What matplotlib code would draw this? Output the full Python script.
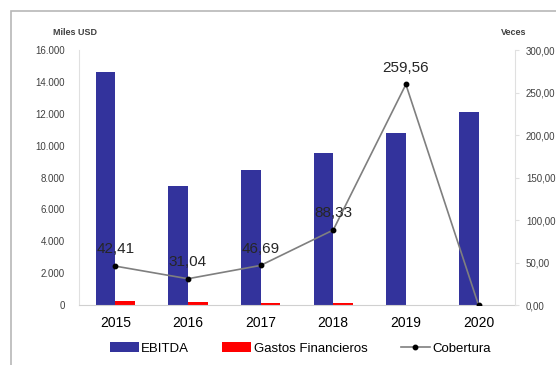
import matplotlib
matplotlib.use("Agg")
import matplotlib.pyplot as plt
import numpy as np
from matplotlib.patches import Rectangle
from matplotlib.ticker import FuncFormatter

years = ["2015", "2016", "2017", "2018", "2019", "2020"]
ebitda = [14650, 7470, 8470, 9520, 10800, 12130]
gastos = [280, 220, 160, 110, 40, 0]
cobertura = [45.9, 31.04, 46.69, 88.33, 259.56, 0.0]
cob_labels = ["42,41", "31,04", "46,69", "88,33", "259,56", ""]

plt.rcParams['font.family'] = ['Liberation Sans', 'DejaVu Sans']

fig = plt.figure(figsize=(5.56, 3.65), dpi=100)
# chart frame (gray border, runs off the right/bottom of the image)
fig.patches.append(Rectangle((11 / 556, -0.1), 1.2, (365 - 11) / 365 + 0.1,
                             transform=fig.transFigure, fill=False,
                             edgecolor='#b8b8b8', linewidth=1.2))

ax = fig.add_axes([0.142, 0.164, 0.784, 0.699])
x = np.arange(len(years))
w = 0.27
b1 = ax.bar(x - w / 2, ebitda, w, color='#33339c', label='EBITDA')
b2 = ax.bar(x + w / 2, gastos, w, color='#ff0000', label='Gastos Financieros')
ax.set_xlim(-0.5, 5.5)
ax.set_ylim(0, 16000)
ax.set_yticks(np.arange(0, 16001, 2000))
ax.yaxis.set_major_formatter(FuncFormatter(lambda v, p: f"{int(v):,}".replace(",", ".")))
ax.set_xticks(x)
ax.set_xticklabels(years, fontsize=10)
ax.tick_params(axis='y', labelsize=7, colors='#404040', length=0, pad=10)
ax.tick_params(axis='x', length=0, pad=8)
for s in ['top', 'right']:
    ax.spines[s].set_visible(False)
ax.spines['left'].set_color('#e0e0e0')
ax.spines['bottom'].set_color('#d0d0d0')

ax2 = ax.twinx()
ln, = ax2.plot(x, cobertura, color='#7f7f7f', linewidth=1.2, marker='o',
               markersize=3.2, markerfacecolor='black', markeredgecolor='black',
               label='Cobertura')
ax2.set_ylim(0, 300)
ax2.set_yticks(np.arange(0, 301, 50))
ax2.yaxis.set_major_formatter(FuncFormatter(lambda v, p: f"{v:.2f}".replace(".", ",")))
ax2.tick_params(axis='y', labelsize=7, colors='#404040', length=3, pad=5)
ax2.tick_params(axis='y', color='#e0e0e0')
for s in ['top', 'left', 'bottom']:
    ax2.spines[s].set_visible(False)
ax2.spines['right'].set_color('#e0e0e0')

for xi, v, t in zip(x, cobertura, cob_labels):
    if t:
        ax2.annotate(t, (xi, v), xytext=(0, 7), textcoords='offset points',
                     ha='center', va='bottom', fontsize=11, color='#262626')

fig.text(0.135, 0.905, "Miles USD", fontsize=6.5, fontweight='bold',
         color='#404040', ha='center')
fig.text(0.923, 0.905, "Veces", fontsize=6.5, fontweight='bold',
         color='#404040', ha='center')

fig.legend([b1, b2, ln], ['EBITDA', 'Gastos Financieros', 'Cobertura'],
           loc='center', bbox_to_anchor=(0.54, 0.045), ncol=3, frameon=False,
           fontsize=9.5, handlelength=2.2, handletextpad=0.2, columnspacing=2.5)

fig.savefig("out.png", dpi=100)
